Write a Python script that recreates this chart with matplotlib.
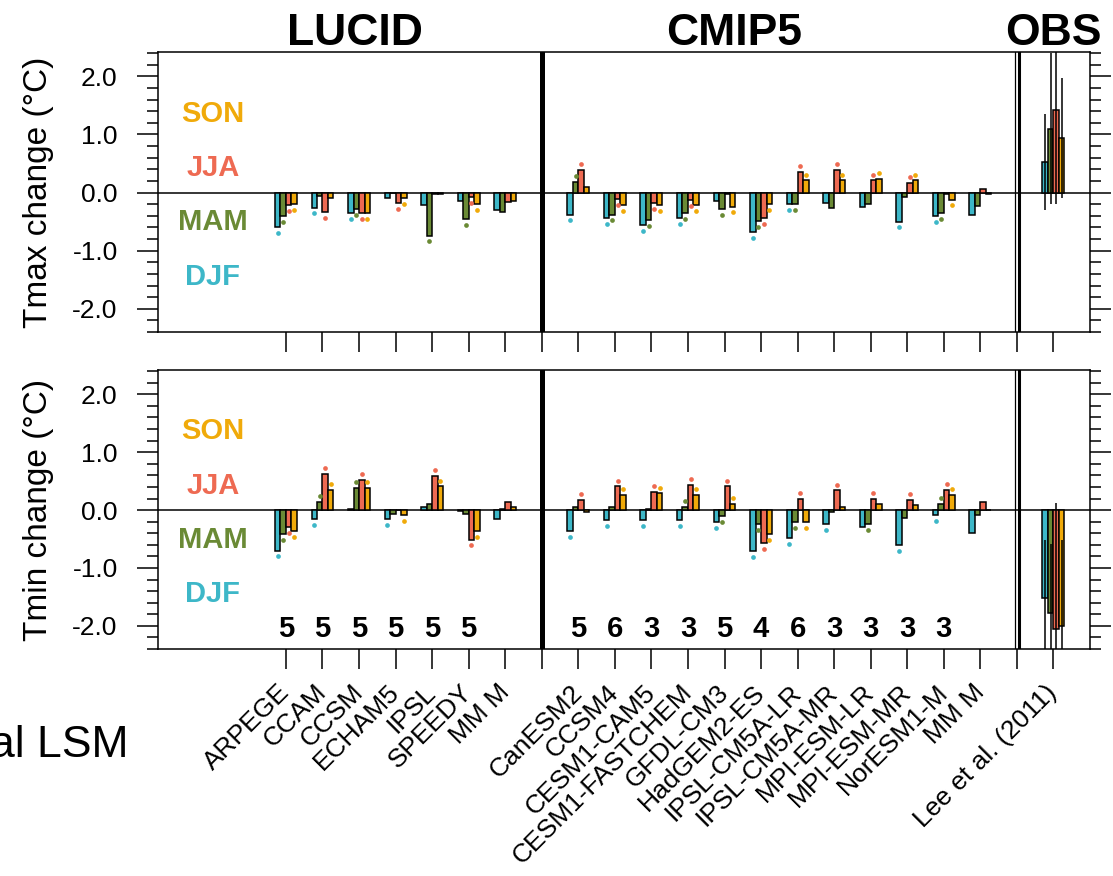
import numpy as np
import matplotlib
matplotlib.use("Agg")
import matplotlib.pyplot as plt
from matplotlib.ticker import MultipleLocator, FixedLocator, FormatStrFormatter
import matplotlib.transforms as mtransforms

plt.rcParams['font.family'] = ['Liberation Sans', 'DejaVu Sans']
plt.rcParams['axes.unicode_minus'] = False

# ---------------- data ----------------
lucid_models = ['ARPEGE', 'CCAM', 'CCSM', 'ECHAM5', 'IPSL', 'SPEEDY', 'MM M']
cmip5_models = ['CanESM2', 'CCSM4', 'CESM1-CAM5', 'CESM1-FASTCHEM', 'GFDL-CM3',
                'HadGEM2-ES', 'IPSL-CM5A-LR', 'IPSL-CM5A-MR', 'MPI-ESM-LR',
                'MPI-ESM-MR', 'NorESM1-M', 'MM M']
obs_names = ['Lee et al. (2011)']
seasons = ['DJF', 'MAM', 'JJA', 'SON']

# Tmax change, LUCID
tmax_lucid_djf = [-0.60, -0.26, -0.36, -0.09, -0.22, -0.15, -0.30]
tmax_lucid_mam = [-0.41, -0.06, -0.28, -0.01, -0.74, -0.45, -0.33]
tmax_lucid_jja = [-0.22, -0.33, -0.36, -0.18, -0.02, -0.08, -0.17]
tmax_lucid_son = [-0.20, -0.09, -0.36, -0.09, -0.02, -0.20, -0.15]
tmax_lucid_sig_djf = [1, 1, 1, 0, 0, 0, 0]
tmax_lucid_sig_mam = [1, 0, 1, 0, 1, 1, 0]
tmax_lucid_sig_jja = [1, 1, 1, 1, 0, 1, 0]
tmax_lucid_sig_son = [1, 0, 1, 1, 0, 1, 0]

# Tmax change, CMIP5
tmax_cmip5_djf = [-0.38, -0.44, -0.56, -0.44, -0.15, -0.68, -0.20, -0.18, -0.24, -0.50, -0.41, -0.39]
tmax_cmip5_mam = [0.18, -0.38, -0.47, -0.35, -0.29, -0.49, -0.20, -0.26, -0.20, -0.08, -0.35, -0.23]
tmax_cmip5_jja = [0.39, -0.11, -0.18, -0.13, -0.02, -0.44, 0.36, 0.39, 0.21, 0.16, -0.02, 0.06]
tmax_cmip5_son = [0.09, -0.21, -0.21, -0.21, -0.24, -0.20, 0.21, 0.21, 0.24, 0.21, -0.12, -0.02]
tmax_cmip5_sig_djf = [1, 1, 1, 1, 0, 1, 1, 0, 0, 1, 1, 0]
tmax_cmip5_sig_mam = [1, 1, 1, 1, 1, 1, 1, 0, 0, 0, 1, 0]
tmax_cmip5_sig_jja = [1, 1, 1, 1, 0, 1, 1, 1, 1, 1, 0, 0]
tmax_cmip5_sig_son = [0, 1, 1, 1, 1, 1, 1, 1, 1, 1, 1, 0]

# Tmax change, OBS (with uncertainty)
tmax_obs = [0.53, 1.10, 1.43, 0.94]
tmax_obs_err = [0.83, 1.30, 1.62, 1.03]

# Tmin change, LUCID
tmin_lucid_djf = [-0.70, -0.16, 0.02, -0.16, 0.05, -0.02, -0.16]
tmin_lucid_mam = [-0.41, 0.14, 0.38, -0.06, 0.11, -0.06, 0.02]
tmin_lucid_jja = [-0.30, 0.62, 0.52, 0.00, 0.59, -0.51, 0.14]
tmin_lucid_son = [-0.36, 0.35, 0.38, -0.09, 0.41, -0.36, 0.05]
tmin_lucid_sig_djf = [1, 1, 0, 1, 0, 0, 0]
tmin_lucid_sig_mam = [1, 1, 1, 0, 0, 0, 0]
tmin_lucid_sig_jja = [1, 1, 1, 0, 1, 1, 0]
tmin_lucid_sig_son = [1, 1, 1, 1, 1, 1, 0]

# Tmin change, CMIP5
tmin_cmip5_djf = [-0.37, -0.18, -0.18, -0.18, -0.21, -0.71, -0.48, -0.24, -0.30, -0.60, -0.09, -0.39]
tmin_cmip5_mam = [0.06, 0.06, 0.02, 0.06, -0.11, -0.24, -0.21, -0.03, -0.24, -0.13, 0.11, -0.09]
tmin_cmip5_jja = [0.17, 0.41, 0.32, 0.44, 0.41, -0.57, 0.20, 0.34, 0.20, 0.17, 0.35, 0.14]
tmin_cmip5_son = [-0.03, 0.26, 0.29, 0.26, 0.11, -0.41, -0.21, 0.06, 0.11, 0.09, 0.26, 0.00]
tmin_cmip5_sig_djf = [1, 1, 1, 1, 1, 1, 1, 1, 0, 1, 1, 0]
tmin_cmip5_sig_mam = [0, 0, 0, 1, 1, 1, 1, 0, 1, 0, 1, 0]
tmin_cmip5_sig_jja = [1, 1, 1, 1, 1, 1, 1, 1, 1, 1, 1, 0]
tmin_cmip5_sig_son = [0, 1, 1, 1, 1, 1, 1, 0, 0, 0, 1, 0]

# Tmin change, OBS
tmin_obs = [-1.52, -1.78, -2.06, -2.01]
tmin_obs_err = [1.00, 1.20, 2.19, 1.50]

# number of models/members annotated in the Tmin panel
lucid_counts = ['5', '5', '5', '5', '5', '5', '']
cmip5_counts = ['5', '6', '3', '3', '5', '4', '6', '3', '3', '3', '3', '']

yticks = [-2.0, -1.0, 0.0, 1.0, 2.0]

# ---------------- styles ----------------
colors = ['#3DB7C8', '#6A8A35', '#EE6A52', '#F0AA0A']
W, H = 1113, 876
bar_w = 0.15
offsets = np.array([-1.5, -0.5, 0.5, 1.5]) * bar_w

lucid_x = np.arange(len(lucid_models))
cmip5_x = np.arange(len(cmip5_models)) + len(lucid_models) + 1
sep1 = len(lucid_models)
sep2 = cmip5_x[-1] + 1
obs_x = np.array([sep2 + 1])
all_x = np.concatenate([lucid_x, cmip5_x, obs_x])
all_labels = lucid_models + cmip5_models + obs_names

fig = plt.figure(figsize=(W / 100, H / 100), dpi=100)
ax1 = fig.add_axes([158 / W, 1 - 332 / H, 932 / W, 280 / H])
ax2 = fig.add_axes([158 / W, 1 - 649 / H, 932 / W, 279 / H])


def draw_panel(ax, lucid, lucid_sig, cmip5, cmip5_sig, obs, obs_err):
    for k in range(4):
        vals = np.concatenate([lucid[k], cmip5[k]])
        sig = np.concatenate([lucid_sig[k], cmip5_sig[k]]).astype(bool)
        xs = np.concatenate([lucid_x, cmip5_x]) + offsets[k]
        ax.bar(xs, vals, width=bar_w, color=colors[k], edgecolor='black',
               linewidth=1.1, zorder=3)
        dy = np.where(vals >= 0, 0.1, -0.1)
        ax.plot(xs[sig], (vals + dy)[sig], 'o', color=colors[k], ms=3.4,
                mec='none', zorder=4)
        ax.bar(obs_x + offsets[k], [obs[k]], width=bar_w, color=colors[k],
               edgecolor='black', linewidth=1.1, zorder=3)
        ax.errorbar(obs_x + offsets[k], [obs[k]], yerr=[obs_err[k]], fmt='none',
                    ecolor='black', elinewidth=1.1, capsize=0, zorder=5)
    ax.axhline(0, color='black', lw=1.1, zorder=2)
    ax.axvline(sep1, color='black', lw=3.6, zorder=2)
    ax.axvline(sep2 - 0.05, color='black', lw=0.9, zorder=2)
    ax.axvline(sep2 + 0.07, color='black', lw=2.2, zorder=2)
    ax.set_xlim(-3.5, sep2 + 2)
    ax.set_ylim(-2.4, 2.42)
    ax.yaxis.set_major_locator(FixedLocator(yticks))
    ax.yaxis.set_minor_locator(MultipleLocator(0.2))
    ax.yaxis.set_major_formatter(FormatStrFormatter('%.1f'))
    ax.tick_params(axis='y', which='major', direction='out', length=15, width=1.1,
                   left=True, right=True, labelsize=19, pad=14)
    ax.tick_params(axis='y', which='minor', direction='out', length=8, width=1.1,
                   left=True, right=True)
    ax.set_xticks(np.arange(0, sep2 + 2))
    ax.tick_params(axis='x', which='major', direction='out', length=14.5, width=1.1,
                   bottom=True, top=False)
    for s in ax.spines.values():
        s.set_linewidth(1.1)
    # season labels
    for name, yb, c in zip(['SON', 'JJA', 'MAM', 'DJF'], [1.22, 0.28, -0.65, -1.59],
                           [colors[3], colors[2], colors[1], colors[0]]):
        ax.text(-2.0, yb, name, color=c, fontsize=21, fontweight='bold',
                ha='center', va='baseline')


draw_panel(ax1,
           [tmax_lucid_djf, tmax_lucid_mam, tmax_lucid_jja, tmax_lucid_son],
           [tmax_lucid_sig_djf, tmax_lucid_sig_mam, tmax_lucid_sig_jja, tmax_lucid_sig_son],
           [tmax_cmip5_djf, tmax_cmip5_mam, tmax_cmip5_jja, tmax_cmip5_son],
           [tmax_cmip5_sig_djf, tmax_cmip5_sig_mam, tmax_cmip5_sig_jja, tmax_cmip5_sig_son],
           tmax_obs, tmax_obs_err)
draw_panel(ax2,
           [tmin_lucid_djf, tmin_lucid_mam, tmin_lucid_jja, tmin_lucid_son],
           [tmin_lucid_sig_djf, tmin_lucid_sig_mam, tmin_lucid_sig_jja, tmin_lucid_sig_son],
           [tmin_cmip5_djf, tmin_cmip5_mam, tmin_cmip5_jja, tmin_cmip5_son],
           [tmin_cmip5_sig_djf, tmin_cmip5_sig_mam, tmin_cmip5_sig_jja, tmin_cmip5_sig_son],
           tmin_obs, tmin_obs_err)

ax1.set_xticklabels([])
ticks_pos = list(np.arange(0, sep2 + 2))
labels_full = []
for p in ticks_pos:
    if p in list(all_x):
        labels_full.append(all_labels[list(all_x).index(p)])
    else:
        labels_full.append('')
ax2.set_xticklabels(labels_full, rotation=45, ha='right', va='center',
                    rotation_mode='anchor', fontsize=19)
ax2.tick_params(axis='x', pad=14)

ax1.set_ylabel('Tmax change (\u00b0C)', fontsize=24)
ax2.set_ylabel('Tmin change (\u00b0C)', fontsize=24)
ax1.yaxis.set_label_coords(-0.112, 0.5)
ax2.yaxis.set_label_coords(-0.112, 0.5)

# count annotations
for x, t in zip(np.concatenate([lucid_x, cmip5_x]), lucid_counts + cmip5_counts):
    if t:
        ax2.text(x, -2.2, t, fontsize=21, fontweight='bold', ha='center', va='baseline')

# group titles
trans = mtransforms.blended_transform_factory(ax1.transData, ax1.transAxes)
for name, xc in [('LUCID', 1.9), ('CMIP5', 12.25), ('OBS', 21.0)]:
    ax1.text(xc, 1.025, name, transform=trans, fontsize=32, fontweight='bold',
             ha='center', va='baseline')

# leftover slide text
fig.text(128 / W, 1 - 757 / H, 'al LSM', fontsize=32, ha='right', va='baseline')

fig.savefig('out.png', dpi=100)
